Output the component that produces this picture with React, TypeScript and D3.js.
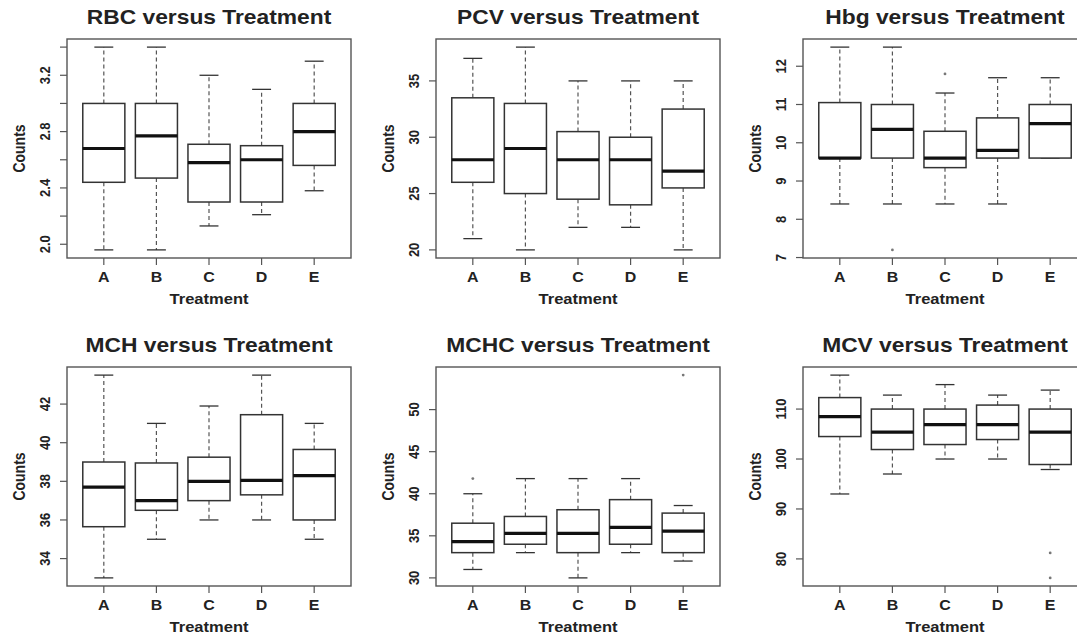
import * as d3 from 'd3'

const TREATMENTS = ['A', 'B', 'C', 'D', 'E']

// each row: [lower whisker, Q1, median, Q3, upper whisker]
const RBC = [
  [1.96, 2.44, 2.68, 3.0, 3.4],
  [1.96, 2.47, 2.77, 3.0, 3.4],
  [2.13, 2.3, 2.58, 2.71, 3.2],
  [2.21, 2.3, 2.6, 2.7, 3.1],
  [2.38, 2.56, 2.8, 3.0, 3.3],
]
const RBC_OUT = [[], [], [], [], []]
const RBC_TICKS = [2.0, 2.2, 2.4, 2.6, 2.8, 3.0, 3.2, 3.4]
const RBC_LABELS = [2.0, 2.4, 2.8, 3.2]

const PCV = [
  [21, 26, 28, 33.5, 37],
  [20, 25, 29, 33, 38],
  [22, 24.5, 28, 30.5, 35],
  [22, 24, 28, 30, 35],
  [20, 25.5, 27, 32.5, 35],
]
const PCV_OUT = [[], [], [], [], []]
const PCV_TICKS = [20, 25, 30, 35]

const HBG = [
  [8.4, 9.6, 9.6, 11.05, 12.5],
  [8.4, 9.6, 10.35, 11, 12.5],
  [8.4, 9.35, 9.6, 10.3, 11.3],
  [8.4, 9.6, 9.8, 10.65, 11.7],
  [9.6, 9.6, 10.5, 11, 11.7],
]
const HBG_OUT = [[], [7.2], [11.8], [], []]
const HBG_TICKS = [7, 8, 9, 10, 11, 12]

const MCH = [
  [33, 35.65, 37.7, 39, 43.5],
  [35, 36.5, 37, 38.95, 41],
  [36, 37, 38, 39.25, 41.9],
  [36, 37.3, 38.05, 41.45, 43.5],
  [35, 36, 38.3, 39.65, 41],
]
const MCH_OUT = [[], [], [], [], []]
const MCH_TICKS = [34, 36, 38, 40, 42]

const MCHC = [
  [31, 33, 34.3, 36.5, 40],
  [33, 34, 35.3, 37.3, 41.8],
  [30, 33, 35.3, 38.1, 41.8],
  [33, 34, 36, 39.3, 41.8],
  [32, 33, 35.55, 37.7, 38.6],
]
const MCHC_OUT = [[41.8], [], [], [], [54.1]]
const MCHC_TICKS = [30, 35, 40, 45, 50]

const MCV = [
  [93, 104.5, 108.5, 112.3, 116.8],
  [97, 101.9, 105.4, 110, 112.8],
  [100, 102.9, 106.9, 110, 114.9],
  [100, 103.9, 106.9, 110.8, 112.8],
  [97.9, 98.9, 105.4, 110, 113.8],
]
const MCV_OUT = [[], [], [], [], [81.2, 76.2]]
const MCV_TICKS = [80, 90, 100, 110]

const PANELS = [
  { title: 'RBC versus Treatment', stats: RBC, out: RBC_OUT, ticks: RBC_TICKS, labels: RBC_LABELS, digits: 1 },
  { title: 'PCV versus Treatment', stats: PCV, out: PCV_OUT, ticks: PCV_TICKS, labels: PCV_TICKS, digits: 0 },
  { title: 'Hbg versus Treatment', stats: HBG, out: HBG_OUT, ticks: HBG_TICKS, labels: HBG_TICKS, digits: 0 },
  { title: 'MCH versus Treatment', stats: MCH, out: MCH_OUT, ticks: MCH_TICKS, labels: MCH_TICKS, digits: 0 },
  { title: 'MCHC versus Treatment', stats: MCHC, out: MCHC_OUT, ticks: MCHC_TICKS, labels: MCHC_TICKS, digits: 0 },
  { title: 'MCV versus Treatment', stats: MCV, out: MCV_OUT, ticks: MCV_TICKS, labels: MCV_TICKS, digits: 0 },
]

const COL_X = [67, 436, 803]
const ROW_Y = [39, 367]
const W = 284
const H = 219
const SX = 1.14 // the picture is a little stretched sideways
const FONT = '"Liberation Sans", Arial, sans-serif'
const INK = '#222'

function BoxPanel({ panel, x0, y0 }) {
  const all = panel.stats.flat().concat(panel.out.flat())
  const [lo, hi] = d3.extent(all)
  const pad = (hi - lo) * 0.04
  const y = d3.scaleLinear().domain([lo - pad, hi + pad]).range([H, 0])
  const x = d3.scaleLinear().domain([0.3, TREATMENTS.length + 0.7]).range([0, W])
  const bw = x(0.4) - x(0)
  const sw = x(0.18) - x(0)

  return (
    <g transform={`translate(${x0},${y0})`} fontFamily={FONT} fontWeight="bold" fill={INK}>
      <text transform={`translate(${W / 2},-15) scale(${SX},1)`} textAnchor="middle" fontSize={20}>
        {panel.title}
      </text>

      {panel.stats.map((s, i) => {
        const cx = x(i + 1)
        const [wl, q1, md, q3, wh] = s
        return (
          <g key={i}>
            <line x1={cx} x2={cx} y1={y(q3)} y2={y(wh)} stroke="#555" strokeWidth={1.2} strokeDasharray="4,3" />
            <line x1={cx} x2={cx} y1={y(q1)} y2={y(wl)} stroke="#555" strokeWidth={1.2} strokeDasharray="4,3" />
            <line x1={cx - sw} x2={cx + sw} y1={y(wh)} y2={y(wh)} stroke="#333" strokeWidth={1.3} />
            <line x1={cx - sw} x2={cx + sw} y1={y(wl)} y2={y(wl)} stroke="#333" strokeWidth={1.3} />
            <rect x={cx - bw} y={y(q3)} width={bw * 2} height={y(q1) - y(q3)} fill="white" stroke="#333" strokeWidth={1.5} />
            <line x1={cx - bw} x2={cx + bw} y1={y(md)} y2={y(md)} stroke="#111" strokeWidth={3.2} />
            {panel.out[i].map((v, j) => (
              <circle key={j} cx={cx} cy={y(v)} r={1.4} fill="#777" />
            ))}
          </g>
        )
      })}

      <rect x={0} y={0} width={W} height={H} fill="none" stroke="#555" strokeWidth={1.4} />

      {TREATMENTS.map((t, i) => (
        <g key={t}>
          <line x1={x(i + 1)} x2={x(i + 1)} y1={H} y2={H + 7} stroke="#555" strokeWidth={1.2} />
          <text transform={`translate(${x(i + 1)},${H + 23.5}) scale(${SX},1)`} textAnchor="middle" fontSize={14}>
            {t}
          </text>
        </g>
      ))}
      <text transform={`translate(${W / 2},${H + 46}) scale(${SX},1)`} textAnchor="middle" fontSize={14.5}>
        Treatment
      </text>

      {panel.ticks.map(v => (
        <line key={v} x1={-7} x2={0} y1={y(v)} y2={y(v)} stroke="#555" strokeWidth={1.2} />
      ))}
      {panel.labels.map(v => (
        <text key={v} transform={`translate(-17,${y(v)}) scale(${SX},1) rotate(-90)`} textAnchor="middle" fontSize={13}>
          {v.toFixed(panel.digits)}
        </text>
      ))}
      <text transform={`translate(-42,${H / 2}) scale(${SX},1) rotate(-90)`} textAnchor="middle" fontSize={14}>
        Counts
      </text>
    </g>
  )
}

export default function App() {
  return (
    <svg
      width={1077}
      height={636}
      style={{ position: 'absolute', left: 0, top: 0, background: 'white' }}
    >
      <rect width={1077} height={636} fill="white" />
      {PANELS.map((p, i) => (
        <BoxPanel key={p.title} panel={p} x0={COL_X[i % 3]} y0={ROW_Y[Math.floor(i / 3)]} />
      ))}
    </svg>
  )
}
